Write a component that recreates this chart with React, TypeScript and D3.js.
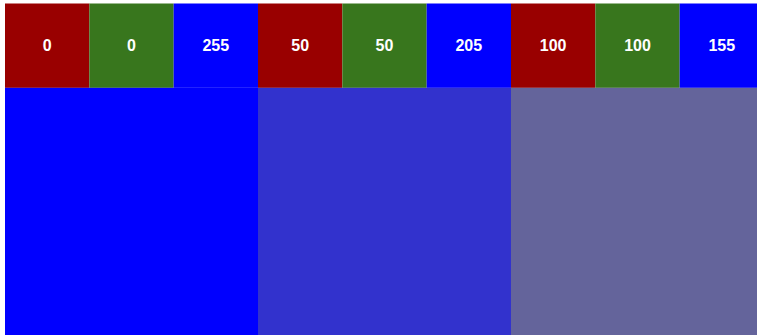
import React from "react";
import * as d3 from "d3";

const channels = ["r", "g", "b"];
const channelColors = ["#990000", "#38761d", "#0000ff"];
const redValues = [0, 50, 100];
const greenValues = [0, 50, 100];
const blueValues = [255, 205, 155];

const W = 757;
const H = 335;
const x0 = 5;
const y0 = 3.5;
const colW = 253;

export default function App() {
  const cols = redValues.map((r, i) => ({ r, g: greenValues[i], b: blueValues[i] }));
  const xCol = d3
    .scaleBand<number>()
    .domain(d3.range(cols.length))
    .range([x0, x0 + colW * cols.length])
    .padding(0);
  const xSub = d3.scaleBand<string>().domain(channels).range([0, xCol.bandwidth()]).padding(0);
  const topH = xSub.bandwidth();
  const bottomH = xCol.bandwidth();

  return (
    <svg
      width={W}
      height={H}
      style={{ position: "absolute", left: 0, top: 0, display: "block" }}
      fontFamily="'Liberation Sans', Arial, sans-serif"
    >
      <rect x={0} y={0} width={W} height={H} fill="#ffffff" />
      {cols.map((c, i) => {
        const cx = xCol(i)!;
        const vals = [c.r, c.g, c.b];
        return (
          <g key={i}>
            {channels.map((ch, j) => (
              <g key={ch}>
                <rect x={cx + xSub(ch)!} y={y0} width={xSub.bandwidth()} height={topH} fill={channelColors[j]} />
                <text
                  x={cx + xSub(ch)! + xSub.bandwidth() / 2}
                  y={y0 + topH / 2}
                  dy="0.35em"
                  textAnchor="middle"
                  fill="#ffffff"
                  fontWeight="bold"
                  fontSize={16}
                >
                  {vals[j]}
                </text>
              </g>
            ))}
            <rect
              x={cx}
              y={y0 + topH}
              width={xCol.bandwidth()}
              height={bottomH}
              fill={d3.rgb(c.r, c.g, c.b).toString()}
            />
          </g>
        );
      })}
    </svg>
  );
}
